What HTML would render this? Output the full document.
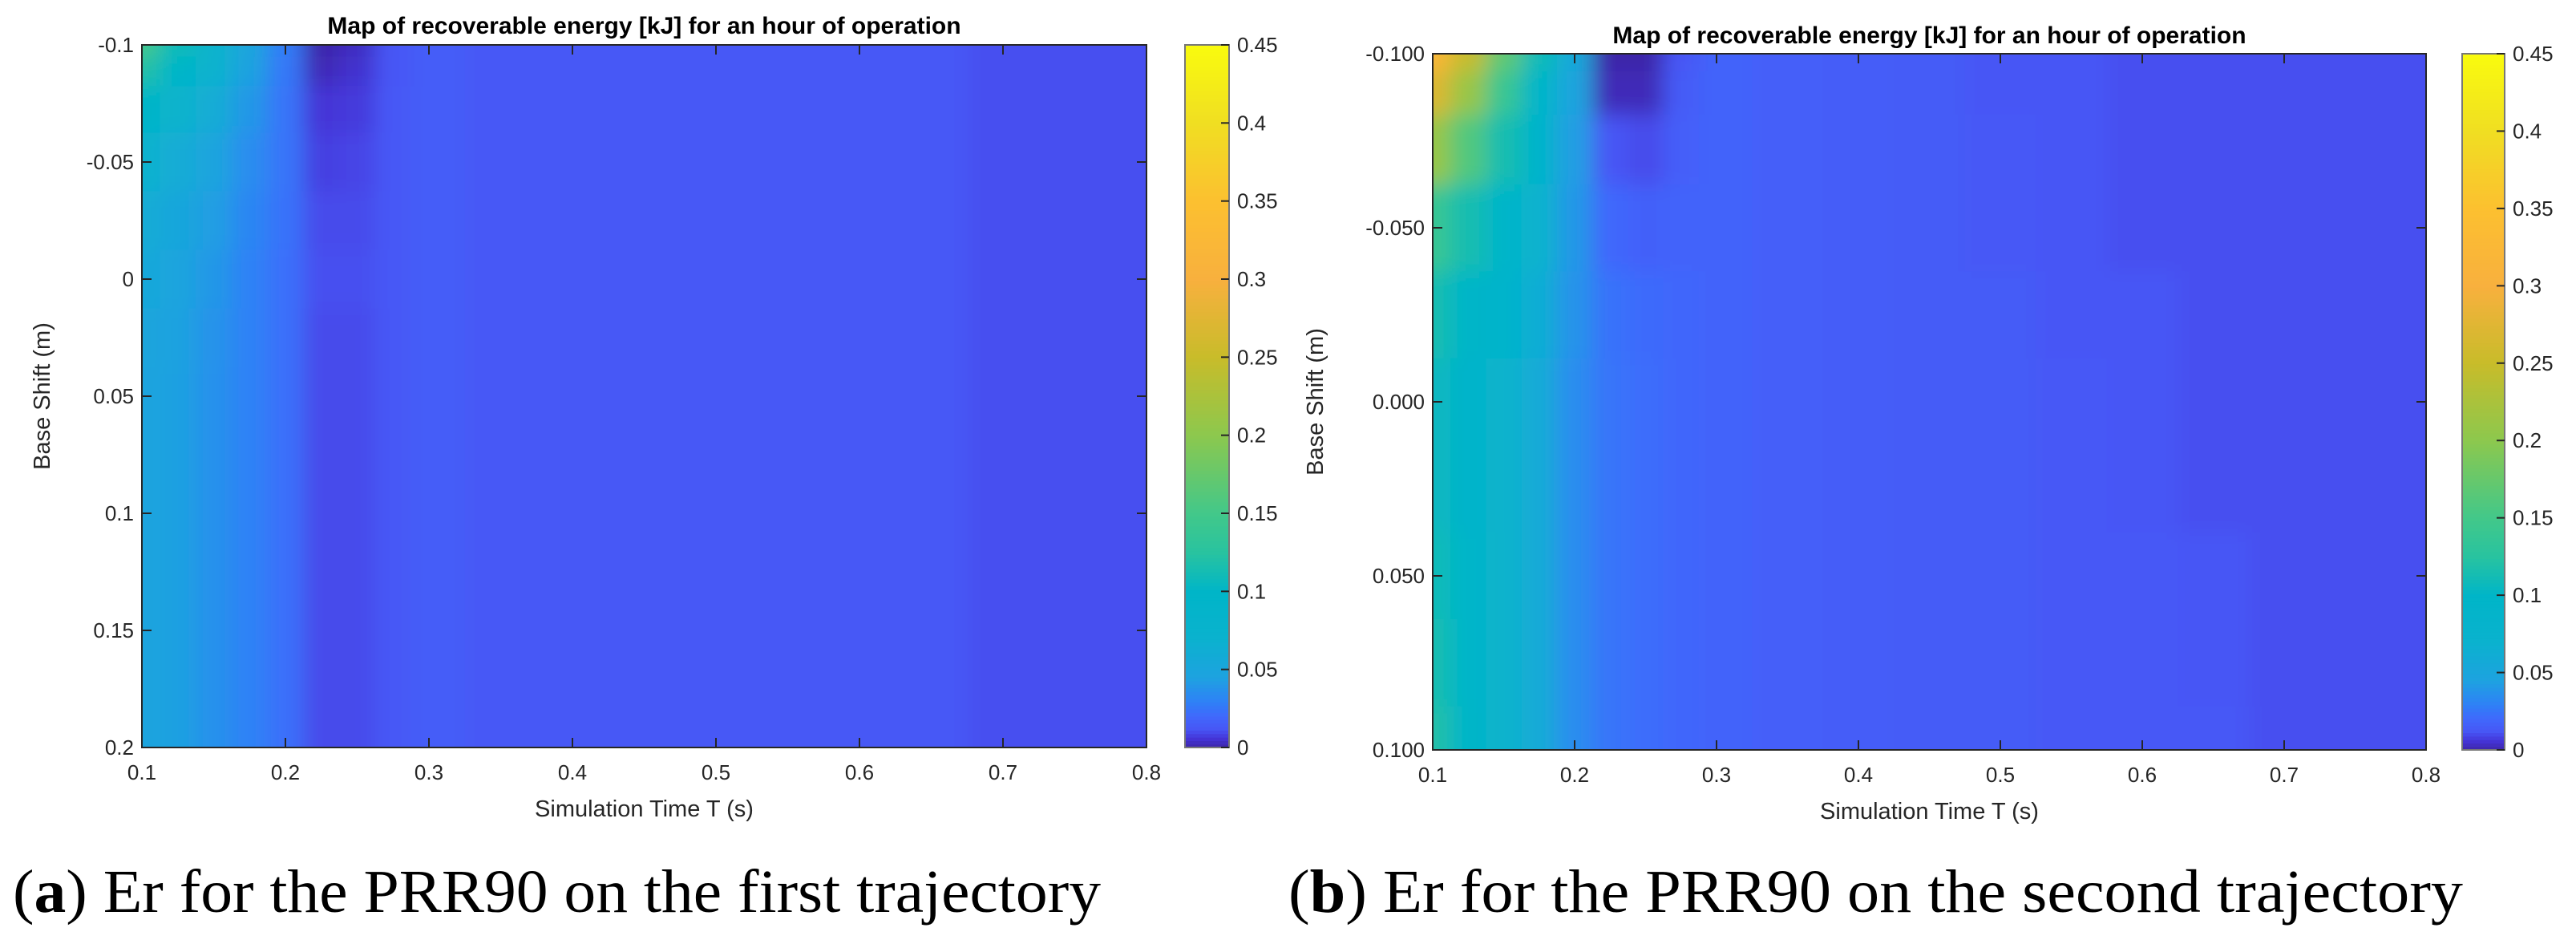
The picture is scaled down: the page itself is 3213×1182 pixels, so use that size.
<!DOCTYPE html>
<html><head><meta charset="utf-8"><style>
html,body{margin:0;padding:0;background:#fff;}
svg{display:block;}
.tick{font-family:"Liberation Sans",Arial,sans-serif;font-size:26px;fill:#262626;}
.ttl{font-family:"Liberation Sans",Arial,sans-serif;font-size:30px;font-weight:bold;fill:#000;}
.lab{font-family:"Liberation Sans",Arial,sans-serif;font-size:29px;fill:#262626;}
.cap{font-family:"Liberation Serif","Times New Roman",serif;font-size:76px;fill:#000;}
</style></head><body>
<svg id="fig" width="3213" height="1182" viewBox="0 0 3213 1182" xmlns="http://www.w3.org/2000/svg">
<defs>
<filter id="blur" filterUnits="userSpaceOnUse" x="0" y="0" width="3213" height="1182"><feGaussianBlur stdDeviation="13"/></filter>
<clipPath id="clipA"><rect x="177" y="56" width="1253" height="876"/></clipPath>
<clipPath id="clipB"><rect x="1787" y="67" width="1239" height="868"/></clipPath>
</defs>
<text class="cap" x="16" y="1137" textLength="1357" lengthAdjust="spacingAndGlyphs">(<tspan font-weight="bold">a</tspan>) Er for the PRR90 on the first trajectory</text>
<text class="cap" x="1607" y="1137" textLength="1465" lengthAdjust="spacingAndGlyphs">(<tspan font-weight="bold">b</tspan>) Er for the PRR90 on the second trajectory</text>
</svg>
<script>
// ---- Chart A data ----
const xsA = [0.1,0.125,0.15,0.175,0.2,0.225,0.25,0.275,0.3,0.35,0.4,0.45,0.5,0.55,0.6,0.65,0.7,0.75,0.8];
const ysA = [-0.1,-0.09,-0.075,-0.05,-0.025,0,0.025,0.05,0.1,0.15,0.2];
const zA = [
 [0.15,0.11,0.08,0.05,0.028,0.0,0.003,0.012,0.015,0.013,0.013,0.013,0.013,0.013,0.013,0.013,0.011,0.011,0.011],
 [0.12,0.095,0.07,0.045,0.026,0.002,0.005,0.012,0.015,0.013,0.013,0.013,0.013,0.013,0.013,0.013,0.011,0.011,0.011],
 [0.10,0.08,0.06,0.04,0.025,0.006,0.007,0.013,0.015,0.013,0.013,0.013,0.013,0.013,0.013,0.013,0.011,0.011,0.011],
 [0.07,0.06,0.048,0.035,0.025,0.008,0.009,0.013,0.015,0.013,0.013,0.013,0.013,0.013,0.013,0.013,0.011,0.011,0.011],
 [0.06,0.052,0.043,0.032,0.024,0.010,0.010,0.013,0.015,0.013,0.013,0.013,0.013,0.013,0.013,0.013,0.011,0.011,0.011],
 [0.055,0.048,0.04,0.03,0.023,0.011,0.011,0.013,0.015,0.013,0.013,0.013,0.013,0.013,0.013,0.013,0.011,0.011,0.011],
 [0.05,0.045,0.038,0.03,0.023,0.010,0.010,0.013,0.015,0.013,0.013,0.013,0.013,0.013,0.013,0.013,0.011,0.011,0.011],
 [0.048,0.044,0.037,0.03,0.023,0.010,0.010,0.013,0.015,0.013,0.013,0.013,0.013,0.013,0.013,0.013,0.011,0.011,0.011],
 [0.048,0.044,0.037,0.03,0.023,0.010,0.010,0.013,0.015,0.013,0.013,0.013,0.013,0.013,0.013,0.013,0.011,0.011,0.011],
 [0.048,0.044,0.037,0.03,0.023,0.010,0.010,0.013,0.015,0.013,0.013,0.013,0.013,0.013,0.013,0.013,0.011,0.011,0.011],
 [0.048,0.044,0.037,0.03,0.023,0.010,0.010,0.013,0.015,0.013,0.013,0.013,0.013,0.013,0.013,0.013,0.011,0.011,0.011]
];
const xTicksA = [0.1,0.2,0.3,0.4,0.5,0.6,0.7,0.8];
const xTickLabelsA = ["0.1","0.2","0.3","0.4","0.5","0.6","0.7","0.8"];
const yTicksA = [-0.1,-0.05,0,0.05,0.1,0.15,0.2];
const yTickLabelsA = ["-0.1","-0.05","0","0.05","0.1","0.15","0.2"];
// ---- Chart B data ----
const xsB = [0.1,0.125,0.15,0.175,0.2,0.225,0.25,0.275,0.3,0.35,0.4,0.45,0.5,0.55,0.6,0.65,0.7,0.75,0.8];
const ysB = [-0.1,-0.09,-0.075,-0.05,-0.025,0,0.025,0.05,0.075,0.1];
const zB = [
 [0.32,0.25,0.17,0.11,0.055,0.0,0.0,0.012,0.018,0.016,0.015,0.014,0.012,0.012,0.011,0.011,0.011,0.011,0.011],
 [0.27,0.21,0.14,0.095,0.048,0.002,0.002,0.014,0.018,0.016,0.015,0.014,0.012,0.012,0.011,0.011,0.011,0.011,0.011],
 [0.21,0.16,0.115,0.085,0.043,0.012,0.010,0.016,0.018,0.016,0.015,0.014,0.013,0.012,0.011,0.011,0.011,0.011,0.011],
 [0.14,0.115,0.095,0.07,0.04,0.02,0.017,0.018,0.018,0.016,0.015,0.014,0.013,0.012,0.011,0.011,0.011,0.011,0.011],
 [0.115,0.10,0.085,0.062,0.038,0.024,0.021,0.019,0.018,0.016,0.015,0.014,0.014,0.012,0.012,0.011,0.011,0.011,0.011],
 [0.105,0.092,0.08,0.058,0.035,0.025,0.022,0.019,0.018,0.016,0.015,0.014,0.014,0.013,0.012,0.011,0.011,0.011,0.011],
 [0.105,0.092,0.08,0.058,0.035,0.025,0.022,0.019,0.018,0.016,0.015,0.014,0.014,0.013,0.012,0.011,0.011,0.011,0.011],
 [0.11,0.095,0.08,0.058,0.035,0.025,0.022,0.019,0.018,0.016,0.015,0.014,0.014,0.013,0.013,0.012,0.011,0.011,0.011],
 [0.115,0.097,0.08,0.058,0.035,0.025,0.022,0.019,0.018,0.016,0.015,0.014,0.014,0.013,0.013,0.012,0.011,0.011,0.011],
 [0.12,0.10,0.08,0.058,0.035,0.025,0.022,0.019,0.018,0.016,0.015,0.014,0.014,0.013,0.013,0.013,0.011,0.011,0.011]
];
const xTicksB = [0.1,0.2,0.3,0.4,0.5,0.6,0.7,0.8];
const xTickLabelsB = ["0.1","0.2","0.3","0.4","0.5","0.6","0.7","0.8"];
const yTicksB = [-0.1,-0.05,0,0.05,0.1];
const yTickLabelsB = ["-0.100","-0.050","0.000","0.050","0.100"];
// ---- Colorbar ----
const cbTicks = [0,0.05,0.1,0.15,0.2,0.25,0.3,0.35,0.4,0.45];
const cbTickLabels = ["0","0.05","0.1","0.15","0.2","0.25","0.3","0.35","0.4","0.45"];
const cmapVals = [0,0.006,0.012,0.02,0.03,0.045,0.07,0.1,0.125,0.15,0.2,0.25,0.3,0.35,0.4,0.45];
const cmapCols = [[62,38,168],[68,52,215],[71,86,245],[64,104,252],[46,130,246],[30,162,224],[10,178,206],[0,181,200],[40,195,160],[66,200,138],[140,200,78],[200,188,42],[248,176,62],[252,192,48],[240,222,34],[249,251,14]];

function cmap(v){
  if(v<=cmapVals[0]) return 'rgb('+cmapCols[0].join(',')+')';
  for(let i=1;i<cmapVals.length;i++){
    if(v<=cmapVals[i]){
      const t=(v-cmapVals[i-1])/(cmapVals[i]-cmapVals[i-1]);
      const a=cmapCols[i-1],b=cmapCols[i];
      return 'rgb('+[0,1,2].map(k=>Math.round(a[k]+(b[k]-a[k])*t)).join(',')+')';
    }
  }
  return 'rgb('+cmapCols[cmapCols.length-1].join(',')+')';
}
const NS='http://www.w3.org/2000/svg';
const svg=document.getElementById('fig');
function mk(tag,attrs,parent){const e=document.createElementNS(NS,tag);for(const k in attrs)e.setAttribute(k,attrs[k]);(parent||svg).appendChild(e);return e;}

function drawChart(o){
  const sx=v=>o.L+(v-o.xmin)/(o.xmax-o.xmin)*(o.R-o.L);
  const sy=v=>o.T+(v-o.ymin)/(o.ymax-o.ymin)*(o.B-o.T);
  const PAD=60;
  const outer=mk('g',{'clip-path':'url(#'+o.clip+')'});
  
  
  const g=mk('g',{filter:'url(#blur)'},outer);
  for(let j=0;j<o.ys.length;j++){
    const py0=j==0?sy(o.ymin)-PAD:sy((o.ys[j-1]+o.ys[j])/2);
    const py1=j==o.ys.length-1?sy(o.ymax)+PAD:sy((o.ys[j]+o.ys[j+1])/2);
    for(let i=0;i<o.xs.length;i++){
      const px0=i==0?sx(o.xmin)-PAD:sx((o.xs[i-1]+o.xs[i])/2);
      const px1=i==o.xs.length-1?sx(o.xmax)+PAD:sx((o.xs[i]+o.xs[i+1])/2);
      const r=mk('rect',{x:px0,y:py0,width:px1-px0+0.6,height:py1-py0+0.6,fill:cmap(o.z[j][i])},g);
      
      
    }
  }
  const box=mk('rect',{x:o.L,y:o.T,width:o.R-o.L,height:o.B-o.T,fill:'none',stroke:'#262626','stroke-width':2});
  
  
  o.xt.forEach((v,k)=>{
    const x=sx(v);
    mk('line',{x1:x,x2:x,y1:o.B,y2:o.B-12,stroke:'#262626','stroke-width':2});
    mk('line',{x1:x,x2:x,y1:o.T,y2:o.T+12,stroke:'#262626','stroke-width':2});
    const t=mk('text',{x:x,y:o.B+40,'text-anchor':'middle',class:'tick'});
    t.textContent=o.xl[k];
    
    
  });
  o.yt.forEach((v,k)=>{
    const y=sy(v);
    mk('line',{x1:o.L,x2:o.L+12,y1:y,y2:y,stroke:'#262626','stroke-width':2});
    mk('line',{x1:o.R,x2:o.R-12,y1:y,y2:y,stroke:'#262626','stroke-width':2});
    const t=mk('text',{x:o.L-10,y:y+9,'text-anchor':'end',class:'tick'});
    t.textContent=o.yl[k];
    
    
  });
  const ti=mk('text',{x:(o.L+o.R)/2,y:o.titleY,'text-anchor':'middle',class:'ttl'});
  ti.textContent='Map of recoverable energy [kJ] for an hour of operation';
  
  
  const xl=mk('text',{x:(o.L+o.R)/2,y:o.B+86,'text-anchor':'middle',class:'lab'});
  xl.textContent='Simulation Time T (s)';
  
  
  const yl=mk('text',{x:0,y:0,'text-anchor':'middle',class:'lab',transform:'translate('+o.ylx+','+((o.T+o.B)/2)+') rotate(-90)'});
  yl.textContent='Base Shift (m)';
  
  
  // colorbar
  const cbg=mk('g',{});
  
  
  const cmin=cbTicks[0],cmax=cbTicks[cbTicks.length-1];
  const cy=v=>o.B-(v-cmin)/(cmax-cmin)*(o.B-o.T);
  const N=200;
  for(let n=0;n<N;n++){
    const v0=cmin+(cmax-cmin)*n/N, v1=cmin+(cmax-cmin)*(n+1)/N;
    mk('rect',{x:o.cbL,y:cy(v1),width:o.cbR-o.cbL,height:cy(v0)-cy(v1)+0.8,fill:cmap((v0+v1)/2)},cbg);
  }
  mk('rect',{x:o.cbL,y:o.T,width:o.cbR-o.cbL,height:o.B-o.T,fill:'none',stroke:'#777','stroke-width':2},cbg);
  cbTicks.forEach((v,k)=>{
    const y=cy(v);
    mk('line',{x1:o.cbR,x2:o.cbR-10,y1:y,y2:y,stroke:'#262626','stroke-width':2},cbg);
    const t=mk('text',{x:o.cbR+10,y:y+9,class:'tick'},cbg);
    t.textContent=cbTickLabels[k];
    
    
  });
}
drawChart({id:'chart-a',clip:'clipA',L:177,R:1430,T:56,B:932,xmin:0.1,xmax:0.8,ymin:-0.1,ymax:0.2,
  xs:xsA,ys:ysA,z:zA,xt:xTicksA,xl:xTickLabelsA,yt:yTicksA,yl:yTickLabelsA,titleY:42,ylx:62,cbL:1478,cbR:1533});
drawChart({id:'chart-b',clip:'clipB',L:1787,R:3026,T:67,B:935,xmin:0.1,xmax:0.8,ymin:-0.1,ymax:0.1,
  xs:xsB,ys:ysB,z:zB,xt:xTicksB,xl:xTickLabelsB,yt:yTicksB,yl:yTickLabelsB,titleY:54,ylx:1650,cbL:3071,cbR:3124});
</script>
</body></html>
